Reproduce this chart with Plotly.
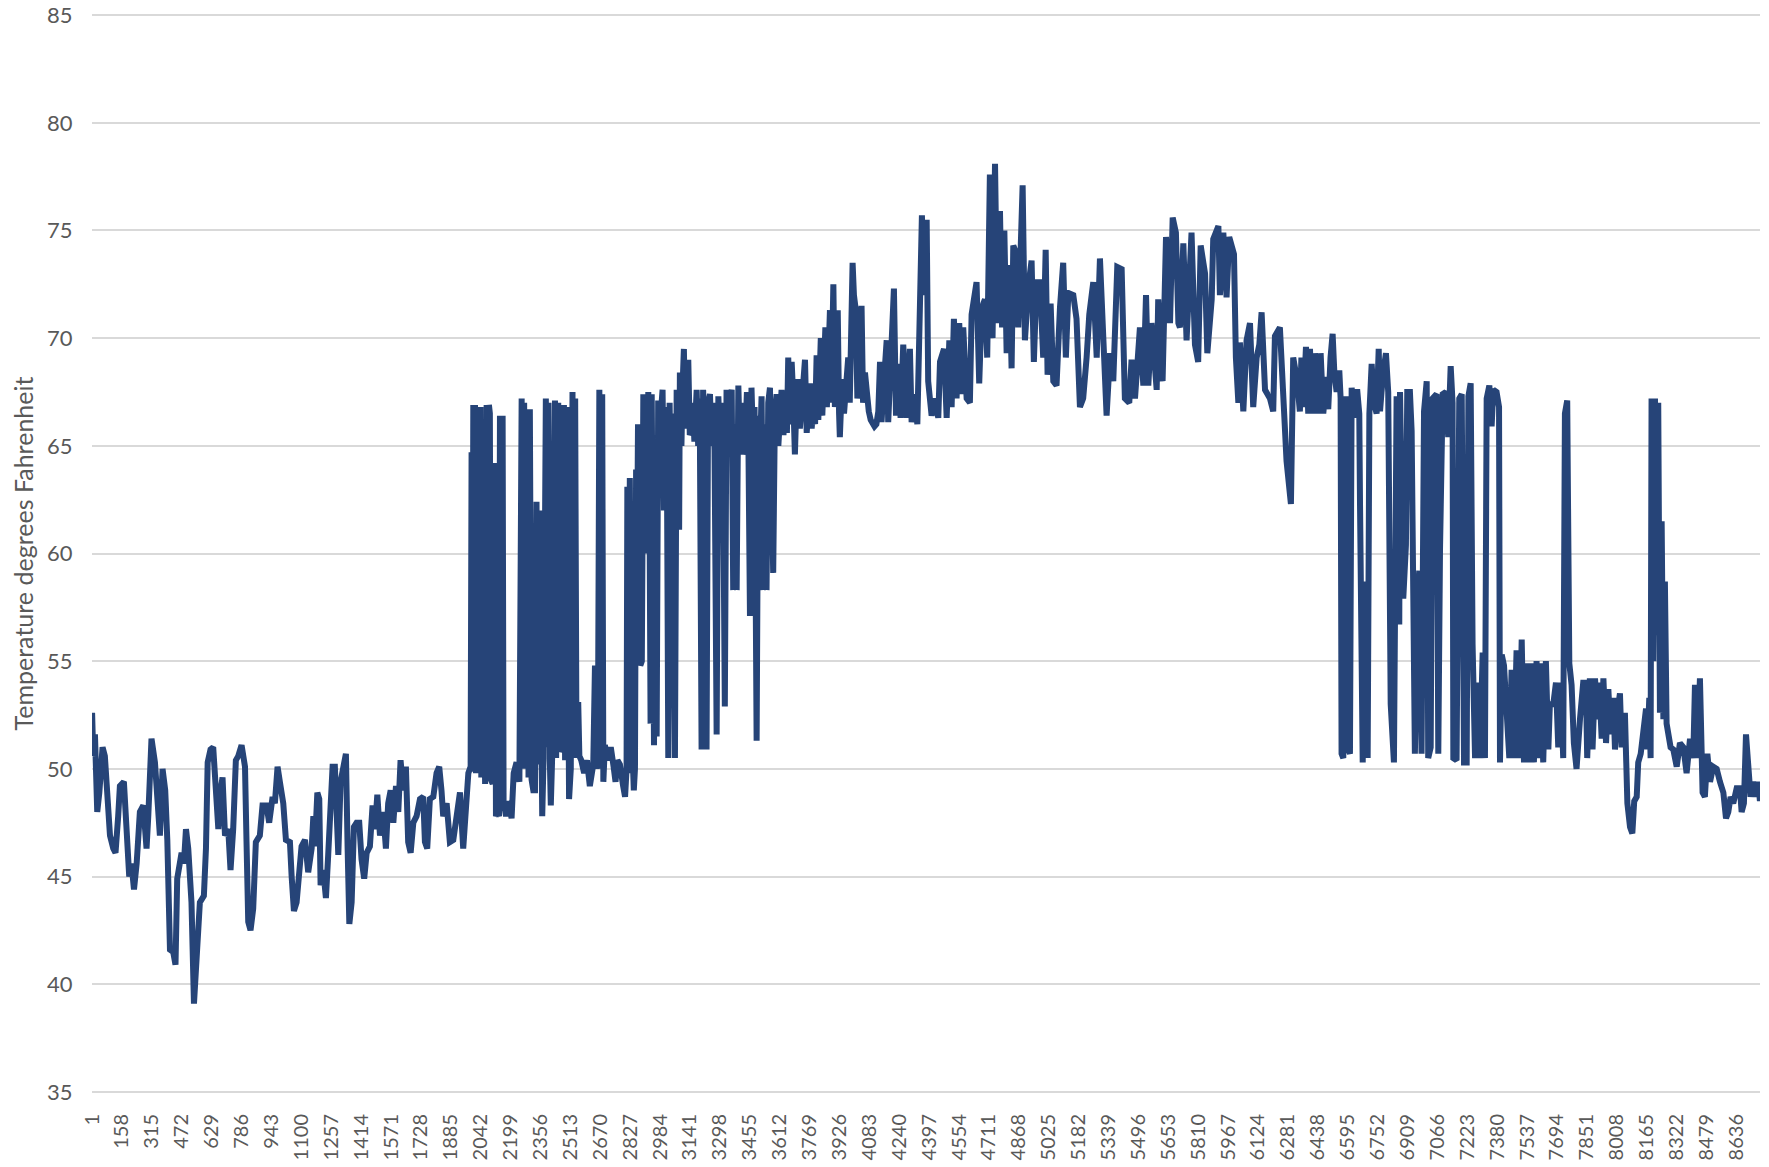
import plotly.graph_objects as go

# Hourly temperature readings (hour index, degrees F)
seg_winter = [
    (1,52.6),(7,50.6),(16,51.6),(28,48.0),(39,48.9),(46,50.1),(56,51.0),(68,50.6),(77,49.0),(95,46.9),
    (112,46.3),(124,46.1),(138,47.8),(147,49.2),(168,49.4),(182,46.9),(196,45.0),(208,45.6),(221,44.4),
    (235,45.6),(252,48.0),(270,48.3),(287,46.3),(296,47.8),(305,50.6),(313,51.4),(331,50.3),(348,47.8),
    (357,46.9),(371,50.0),(385,49.0),(396,46.7),(410,41.6),(427,41.5),(439,40.9),(448,44.9),(471,46.1),
    (483,45.6),(494,47.2),(506,46.3),(523,43.8),(536,39.1),(550,41.9),(567,43.8),(588,44.1),(599,46.3),
    (608,50.3),(623,50.9),(637,51.0),(646,49.4),(664,47.2),(676,49.0),(686,49.6),(699,46.9),(716,47.2),
    (728,45.3),(742,47.2),(756,50.4),(769,50.6),(786,51.1),(804,50.1),(812,46.6),(821,42.9),(833,42.5),
    (847,43.5),(861,46.6),(882,46.9),(896,48.3),(917,48.3),(931,47.5),(949,48.7),(961,48.4),(975,50.1),
    (987,49.4),(1005,48.4),(1019,46.7),(1040,46.6),(1049,45.0),(1061,43.4),(1075,43.8),(1084,44.9),
    (1101,46.4),(1119,46.7),(1136,45.2),(1154,46.3),(1163,47.8),(1171,46.4),(1184,48.9),(1194,48.6),
    (1201,44.6),(1215,45.3),(1229,44.0),(1241,46.0),(1254,49.2),(1264,50.1),(1276,50.1),(1294,46.0),
    (1306,49.4),(1320,50.3),(1334,50.7),(1343,46.3),(1352,42.8),(1364,43.8),(1376,47.3),(1390,47.5),
    (1404,47.5),(1416,45.8),(1430,44.9),(1443,46.1),(1460,46.4),(1474,48.3),(1486,47.2),(1499,48.8),
    (1513,46.9),(1530,48.0),(1544,46.3),(1556,48.4),(1569,49.0),(1583,47.5),(1597,49.2),(1609,48.0),
    (1621,50.4),(1635,49.0),(1649,50.1),(1661,46.6),(1674,46.1),(1688,47.5),(1705,47.8),(1723,48.6),
    (1740,48.7),(1749,46.6),(1761,46.3),(1775,48.6),(1793,48.7),(1810,49.8),(1824,50.1),(1836,49.0),
    (1845,47.8),(1863,48.4),(1880,46.6),(1898,46.7),(1912,47.8),(1924,48.7),(1933,48.9),(1950,46.3),
    (1964,48.4),(1977,49.8),(1985,50.0),
]

seg_spring = [
    (1989,50.0),(1994,64.7),(1998,50.5),(2003,66.9),(2008,50.2),(2012,66.9),(2017,49.8),(2022,66.5),
    (2026,50.0),(2031,66.8),(2036,49.8),(2041,66.8),(2045,49.6),(2052,64.5),(2058,49.4),(2065,49.3),
    (2073,66.9),(2080,50.0),(2085,66.9),(2090,66.5),(2095,49.5),(2105,49.3),(2117,64.2),(2122,47.8),
    (2130,48.0),(2138,47.8),(2143,66.4),(2150,48.2),(2157,66.4),(2162,48.5),(2175,47.8),(2190,48.5),
    (2204,47.7),(2215,49.8),(2230,50.3),(2245,49.4),(2257,67.2),(2262,50.0),(2270,67.0),(2279,50.2),
    (2286,66.7),(2293,49.6),(2300,66.7),(2309,49.5),(2318,49.0),(2327,49.0),(2335,62.4),(2342,50.2),
    (2349,62.0),(2356,50.0),(2365,47.8),(2372,50.5),(2384,67.2),(2390,51.0),(2398,67.0),(2405,50.4),
    (2410,48.3),(2418,50.8),(2432,67.1),(2438,50.5),(2449,67.0),(2455,50.8),(2465,51.0),(2479,66.9),
    (2485,50.4),(2493,66.8),(2500,49.8),(2506,48.6),(2515,50.0),(2524,67.5),(2530,50.5),(2538,67.2),
    (2545,50.6),(2554,53.1),(2560,50.6),(2570,50.4),(2585,49.8),(2600,50.4),(2615,49.2),(2633,50.2),
    (2642,54.8),(2650,50.0),(2659,54.5),(2665,67.6),(2672,50.0),(2680,67.4),(2686,49.4),(2694,51.1),
    (2710,50.4),(2725,51.0),(2740,50.1),(2750,49.4),(2760,50.4),(2773,50.2),(2790,49.2),(2800,48.7),
    (2808,50.0),(2812,63.1),(2818,50.2),(2825,63.5),(2834,49.8),(2840,50.6),(2846,49.0),(2852,50.0),
    (2858,63.9),(2862,58.0),(2868,66.0),(2874,62.0),(2880,54.8),(2888,55.0),(2896,67.4),(2902,62.5),
    (2908,66.8),(2914,60.0),(2922,67.5),(2928,63.0),(2934,52.1),(2940,67.4),(2946,62.0),(2952,51.1),
    (2958,60.5),(2966,51.5),(2974,67.1),(2980,63.5),(2988,66.5),(2997,67.6),(3004,62.0),(3012,66.8),
    (3020,64.0),(3027,50.5),(3034,67.0),(3040,63.0),(3046,66.5),(3052,58.0),(3062,50.5),(3071,67.6),
    (3078,64.5),(3084,61.1),(3088,68.4),(3096,65.0),(3103,68.0),(3109,69.5),(3116,65.8),(3124,68.2),
    (3132,69.0),(3140,65.5),(3149,65.7),(3156,67.0),(3164,65.2),(3176,67.6),(3184,65.0),(3192,67.2),
    (3202,50.9),(3210,67.6),(3218,65.0),(3228,50.9),(3236,67.0),(3246,67.4),(3254,65.0),(3262,67.0),
    (3270,64.8),(3281,51.6),(3290,67.3),(3298,65.2),(3306,67.0),(3314,65.0),(3324,52.9),(3333,67.6),
    (3342,65.4),(3350,67.2),(3360,67.6),(3368,58.3),(3377,66.0),(3386,58.3),(3395,67.8),(3403,65.0),
    (3412,67.0),(3420,64.6),(3430,65.1),(3440,67.5),(3448,65.0),(3456,57.1),(3464,67.7),(3472,65.2),
    (3480,66.8),(3491,51.3),(3500,66.4),(3508,64.5),(3517,67.3),(3526,58.3),(3534,66.0),(3543,58.3),
    (3552,67.0),(3561,67.7),(3570,64.5),(3578,59.1),(3587,66.5),(3596,67.4),(3605,65.0),(3614,67.0),
    (3622,67.6),(3632,65.5),(3640,67.2),(3650,65.6),(3657,69.1),(3665,66.0),(3675,68.9),(3683,67.3),
    (3692,64.6),(3700,67.0),(3710,68.1),(3718,65.8),(3727,67.2),(3736,67.4),(3745,69.0),(3754,65.6),
    (3762,67.5),(3771,67.9),(3780,65.8),(3790,67.0),(3798,66.0),(3806,69.2),(3815,66.2),(3822,68.0),
    (3828,70.0),(3836,66.4),(3844,69.0),(3852,70.5),(3860,66.8),(3868,71.0),(3876,71.3),(3882,67.0),
    (3894,72.5),(3902,66.8),(3910,68.5),(3917,71.3),(3924,66.5),(3928,65.4),(3935,67.0),(3941,68.1),
    (3950,66.5),(3960,67.5),(3972,69.1),(3980,67.0),(3990,70.8),(3995,73.5),(4002,72.0),(4012,71.3),
    (4020,67.2),(4030,68.0),(4042,71.5),(4050,67.0),(4060,68.4),(4070,67.2),(4080,66.6),(4090,66.2),
    (4100,66.0),(4110,65.9),(4120,66.0),(4130,66.6),
]

seg_summer = [
    (4139,68.9),(4147,66.1),(4156,67.5),(4174,69.9),(4182,66.1),(4212,72.3),(4223,66.4),(4235,68.8),
    (4247,66.3),(4261,69.7),(4279,66.3),(4296,69.5),(4305,66.1),(4322,67.4),(4335,66.0),(4349,71.1),
    (4359,75.7),(4372,72.0),(4384,75.5),(4392,68.0),(4410,66.4),(4427,67.2),(4445,66.3),(4454,68.9),
    (4475,69.5),(4489,66.3),(4503,69.9),(4515,66.8),(4527,70.9),(4541,67.2),(4555,70.7),(4568,67.4),
    (4576,70.5),(4594,67.2),(4611,67.0),(4620,71.1),(4646,72.6),(4660,67.9),(4673,71.4),(4690,71.8),
    (4702,69.1),(4716,77.6),(4730,70.0),(4743,78.1),(4755,70.7),(4769,75.9),(4780,70.5),(4792,75.0),
    (4804,69.3),(4818,73.4),(4830,68.6),(4839,74.3),(4856,73.9),(4865,70.5),(4888,77.1),(4900,69.9),
    (4918,72.4),(4935,73.6),(4947,68.9),(4961,72.6),(4979,72.6),(4996,69.1),(5009,74.1),(5019,68.3),
    (5035,71.6),(5049,68.0),(5066,67.8),(5084,71.4),(5101,73.5),(5115,69.1),(5128,72.1),(5154,72.0),
    (5171,70.9),(5189,66.8),(5206,67.2),(5224,69.1),(5238,71.1),(5259,72.6),(5277,69.1),(5294,73.7),
    (5312,69.1),(5329,66.4),(5347,69.3),(5364,68.0),(5385,73.3),(5408,73.2),(5425,67.2),(5448,67.0),
    (5460,69.0),(5478,67.2),(5504,70.5),(5522,67.8),(5536,72.0),(5548,67.8),(5565,70.7),(5592,67.6),
    (5600,71.8),(5623,68.0),(5641,74.7),(5662,70.7),(5676,75.6),(5693,74.9),(5706,70.7),(5714,70.5),
    (5732,74.4),(5749,69.9),(5775,74.9),(5793,69.7),(5810,68.9),(5823,74.3),(5846,73.0),(5858,69.3),
    (5881,71.8),(5889,74.6),(5916,75.2),(5924,72.0),(5942,74.9),(5959,71.9),(5973,74.7),(5998,73.9),
    (6008,69.1),(6021,67.0),(6029,69.8),(6047,66.6),(6064,69.9),(6082,70.7),(6099,66.8),(6117,69.1),
    (6131,69.7),(6143,71.2),(6161,67.6),(6187,67.2),(6204,66.6),(6213,70.1),(6239,70.5),(6257,67.4),
    (6274,64.3),(6297,62.3),(6309,69.1),(6330,68.0),
]

seg_autumn = [
    (6344,66.6),(6352,69.1),(6362,66.8),(6376,69.6),(6388,66.5),(6397,69.5),(6411,66.5),(6423,69.3),
    (6441,66.5),(6453,69.3),(6467,66.5),(6484,68.2),(6493,66.7),(6505,69.1),(6516,70.2),(6525,68.4),
    (6537,67.5),(6551,68.5),(6558,67.2),(6563,50.7),(6572,50.5),(6586,67.3),(6598,50.9),(6607,50.7),
    (6616,67.7),(6625,66.3),(6633,67.5),(6646,67.5),(6656,66.5),(6660,62.2),(6674,50.3),(6686,58.7),
    (6700,50.5),(6709,66.5),(6721,68.8),(6733,67.0),(6747,66.5),(6758,69.5),(6765,66.6),(6779,68.2),
    (6796,69.3),(6808,67.5),(6817,59.4),(6821,53.0),(6838,50.3),(6852,67.3),(6866,56.7),(6870,67.5),
    (6887,57.9),(6901,60.4),(6908,67.5),(6922,67.5),(6931,65.7),(6940,51.2),(6948,50.7),(6961,57.6),
    (6971,59.2),(6983,50.7),(6996,66.6),(7010,68.0),(7018,50.5),(7031,51.0),(7041,67.2),(7062,67.4),
    (7071,50.7),(7080,60.2),(7094,67.4),(7111,67.5),(7123,65.4),(7136,68.7),(7146,67.0),(7150,50.5),
    (7167,50.4),(7181,67.2),(7194,67.4),(7206,50.3),(7220,50.3),(7229,67.3),(7241,67.9),(7251,55.8),
    (7264,50.5),(7276,54.0),(7290,50.5),(7304,55.4),(7316,50.5),(7325,67.2),(7339,67.8),(7351,65.9),
    (7360,67.6),(7377,67.5),(7390,66.8),(7395,50.3),(7404,55.3),(7416,54.8),(7430,52.6),(7444,50.5),
    (7456,54.6),(7468,50.5),(7482,55.5),(7496,50.5),(7509,56.0),(7521,50.3),(7535,54.9),(7549,50.3),
    (7561,54.9),(7573,50.3),(7587,55.0),(7601,50.5),(7608,54.9),(7622,50.3),(7636,55.0),(7649,50.9),
    (7657,53.0),(7675,53.0),(7689,54.0),(7701,51.0),(7713,54.0),(7727,50.5),(7736,66.5),(7748,67.1),
    (7759,54.9),(7771,53.9),(7783,51.2),(7797,50.0),(7815,52.3),(7832,54.0),(7846,54.0),(7853,50.5),
    (7867,54.2),(7881,50.9),(7894,54.2),(7906,52.3),(7916,54.0),(7929,51.4),(7938,54.2),(7952,51.2),
    (7964,53.7),(7976,51.6),(7990,53.3),(7999,50.9),(8011,52.6),(8025,53.5),(8034,51.0),(8051,52.6),
    (8064,48.4),(8078,47.3),(8090,47.0),(8100,48.5),(8113,48.7),(8121,50.3),(8134,50.7),(8148,52.1),
    (8162,52.8),(8169,50.9),(8179,53.3),(8186,50.5),(8191,67.2),(8200,55.0),(8209,67.2),(8218,56.2),
    (8226,67.0),(8235,52.6),(8244,61.5),(8253,52.3),(8261,58.7),(8270,52.1),(8291,51.0),(8305,50.9),
    (8323,50.1),(8340,51.2),(8358,51.0),(8375,49.8),(8393,51.4),(8410,50.5),(8419,53.9),(8431,50.5),
    (8445,54.2),(8459,48.9),(8471,48.7),(8484,50.7),(8498,49.4),(8515,50.1),(8533,50.0),(8550,49.4),
    (8568,48.9),(8582,47.7),(8594,48.0),(8606,48.7),(8620,48.4),(8638,49.1),(8655,49.1),(8664,48.0),
    (8676,48.4),(8687,51.6),(8699,50.5),(8711,48.7),(8725,49.4),(8739,48.7),(8752,49.4),(8760,48.5),
]

tick_labels = ["1","158","315","472","629","786","943","1100","1257","1414","1571","1728","1885",
               "2042","2199","2356","2513","2670","2827","2984","3141","3298","3455","3612","3769",
               "3926","4083","4240","4397","4554","4711","4868","5025","5182","5339","5496","5653",
               "5810","5967","6124","6281","6438","6595","6752","6909","7066","7223","7380","7537",
               "7694","7851","8008","8165","8322","8479","8636"]

y_label = "Temperature degrees Fahrenheit"

points = seg_winter + seg_spring + seg_summer + seg_autumn
hours = [p[0] for p in points]
temps = [p[1] for p in points]

FONT = "Lato, 'Open Sans', sans-serif"
GREY = "#595959"

fig = go.Figure()
fig.add_trace(go.Scatter(
    x=hours, y=temps, mode="lines",
    line=dict(color="#264478", width=6),
    hoverinfo="x+y", showlegend=False,
))

fig.update_layout(
    width=1769, height=1167,
    autosize=False,
    margin=dict(l=92, r=9, t=12.5, b=73, pad=0),
    paper_bgcolor="white", plot_bgcolor="white",
    font=dict(family=FONT, color=GREY),
)
fig.update_xaxes(
    range=[0.5, 8760.5], automargin=False,
    tickmode="array", tickvals=[int(t) for t in tick_labels], ticktext=tick_labels,
    tickangle=-90, tickfont=dict(family=FONT, size=20, color=GREY),
    ticks="outside", ticklen=11, tickcolor="rgba(0,0,0,0)",
    showgrid=False, zeroline=False, showline=False,
)
fig.update_yaxes(
    range=[34.9, 85.1], tickmode="array", tickvals=[35, 40, 45, 50, 55, 60, 65, 70, 75, 80, 85],
    automargin=False,
    tickfont=dict(family=FONT, size=22, color=GREY),
    ticks="outside", ticklen=14, tickcolor="rgba(0,0,0,0)",
    showgrid=True, gridcolor="#d9d9d9", gridwidth=1.6,
    zeroline=False, showline=False,
    title=dict(text=y_label, font=dict(family=FONT, size=25, color=GREY), standoff=6),
)

fig.write_html(
    "out.html",
    config={"displayModeBar": False},
    post_script="document.body.style.margin='0';document.body.style.overflow='hidden';",
)
